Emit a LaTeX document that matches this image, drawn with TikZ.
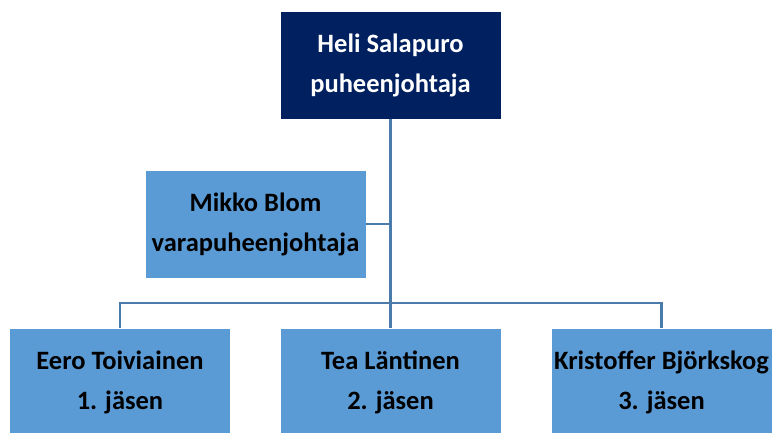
\documentclass[tikz,border=0pt]{standalone}
\usepackage{fontspec}
\setmainfont{Carlito}
\definecolor{navy}{HTML}{002060}
\definecolor{lightblue}{HTML}{5B9BD5}
\definecolor{linkblue}{HTML}{4A7BAA}
\tikzset{
	box/.style={draw=white,line width=0.6pt,minimum width=221pt,minimum height=108pt,
		inner sep=0pt,align=center,font=\bfseries\fontsize{26.5}{40}\selectfont},
	head/.style={box,fill=navy,text=white},
	member/.style={box,fill=lightblue,text=black},
	link/.style={draw=linkblue,line width=2.4pt}
}
\begin{document}
\begin{tikzpicture}[x=1pt,y=1pt]
\useasboundingbox (0,0) rectangle (772,432);
\pgfmathsetmacro{\bus}{129}
\node[head] (chair) at (390.5,367) {Heli Salapuro\\puheenjohtaja};
\node[member] (vice) at (255.5,208) {Mikko Blom\\varapuheenjohtaja};
\node[member] (first) at (120,50) {Eero Toiviainen\\1. jäsen};
\node[member] (second) at (390.5,50) {Tea Läntinen\\2. jäsen};
\node[member] (third) at (661.5,50) {Kristoffer Björkskog\\3. jäsen};
\coordinate (split) at (chair.south |- 0,\bus);
\draw[link] (chair.south)--(split);
\draw[link] (vice.east)--(vice.east -| chair.south);
\draw[link] (first.north)|-(split)-|(third.north);
\draw[link] (split)--(second.north);
\end{tikzpicture}
\end{document}
